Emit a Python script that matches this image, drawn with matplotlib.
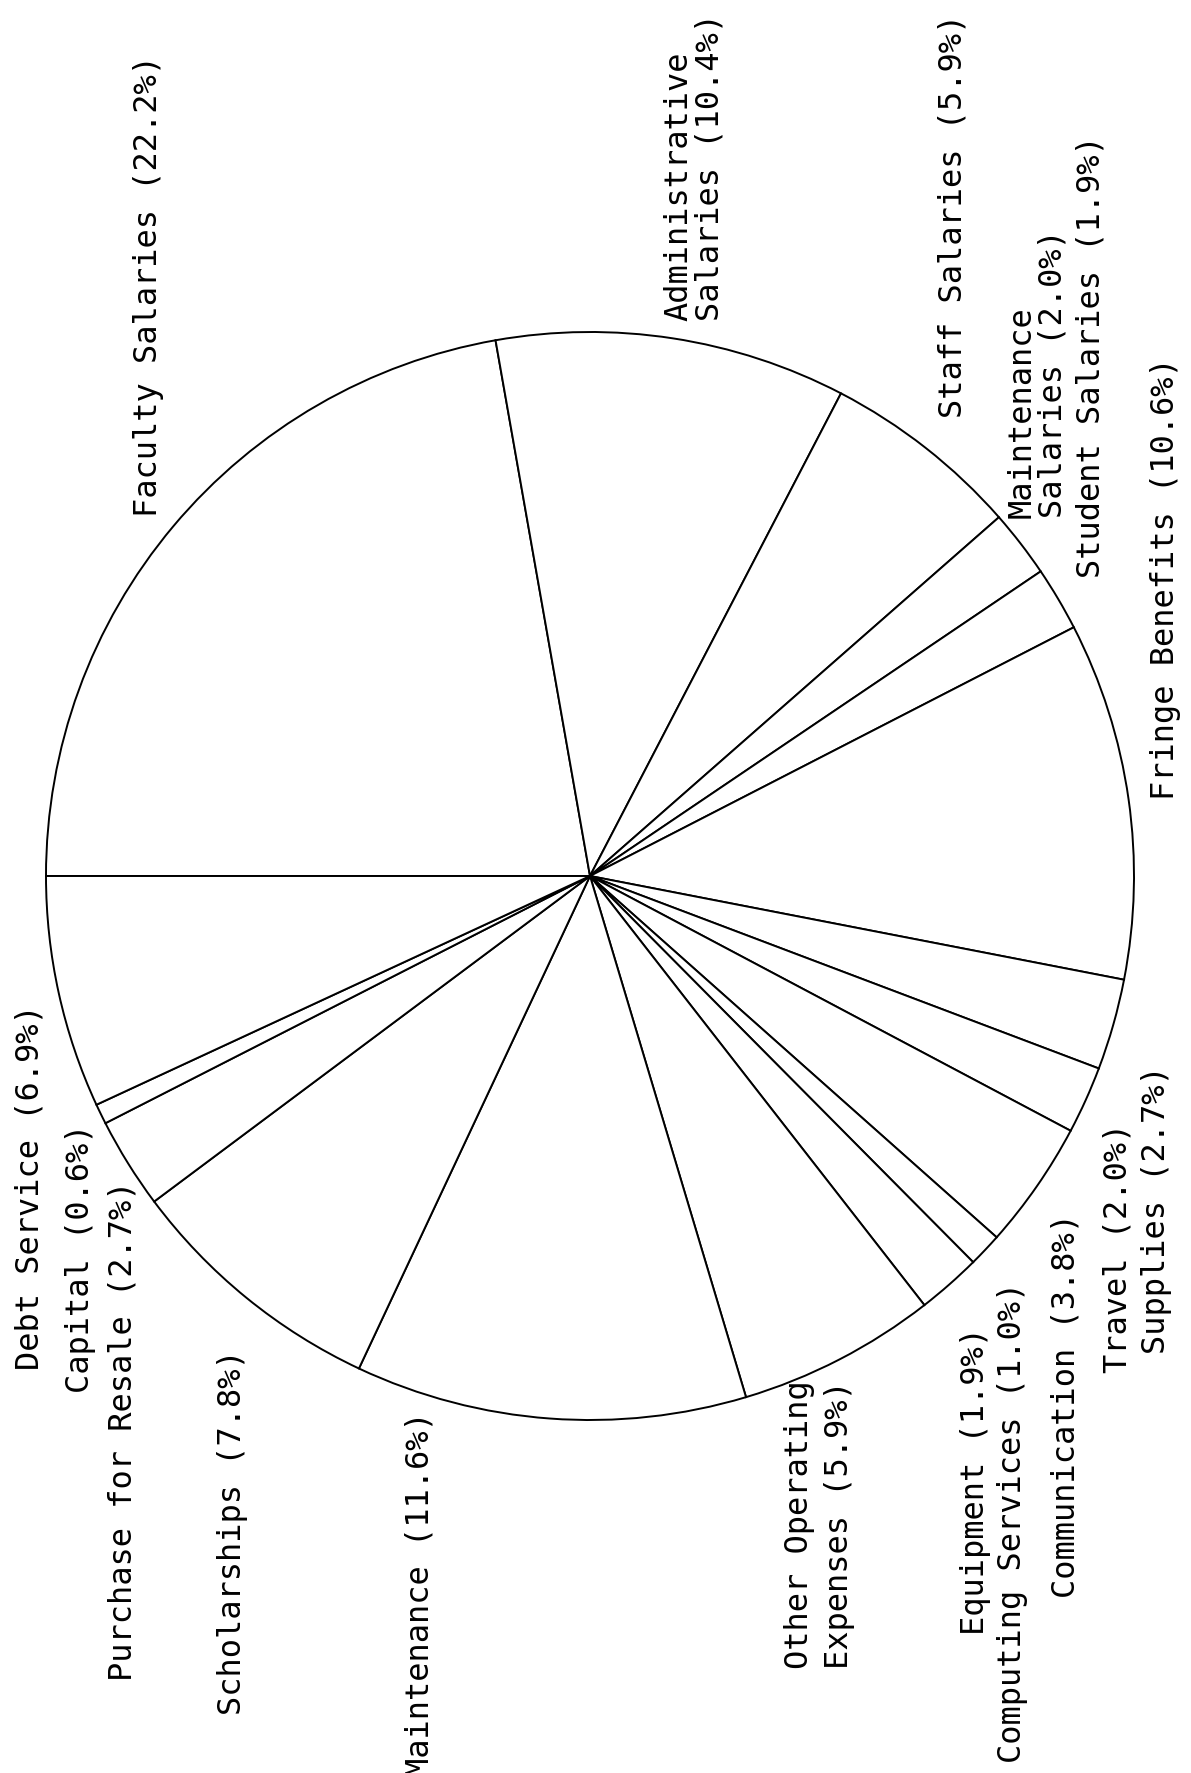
import numpy as np
import matplotlib
matplotlib.use("Agg")
from matplotlib import pyplot as plt

# budget categories, clockwise from the left horizontal line
labels = ["Faculty Salaries", "Administrative\nSalaries", "Staff Salaries",
          "Maintenance\nSalaries", "Student Salaries", "Fringe Benefits",
          "Supplies", "Travel", "Communication", "Computing Services",
          "Equipment", "Other Operating\nExpenses", "Maintenance",
          "Scholarships", "Purchase for Resale", "Capital", "Debt Service"]
percents = [22.2, 10.4, 5.9, 2.0, 1.9, 10.6, 2.7, 2.0, 3.8, 1.0,
            1.9, 5.9, 11.6, 7.8, 2.7, 0.6, 6.9]

# label nudges (pixels, x right / y down) from the wedge mid point on the rim
nudges = [(-25, -10), (22, -18), (27, -31), (17, -27), (33, -22), (37, 0),
          (43, 40), (32, 22), (29, 26), (27, 31), (26, 42), (-20, 20),
          (-130, -8), (-14, 51), (-5, 16), (-20, 8), (-29, 10)]

W, H = 1191, 1774
cx, cy, R = 590, H - 877, 544

fig = plt.figure(figsize=(W / 100, H / 100), dpi=100)
ax = fig.add_axes([0, 0, 1, 1])
wedges, _ = ax.pie(percents, startangle=180, counterclock=False,
                   center=(cx, cy), radius=R,
                   wedgeprops=dict(facecolor='white', edgecolor='black', linewidth=1.4))

for w, lab, pct, (dx, dy) in zip(wedges, labels, percents, nudges):
    mid = np.deg2rad((w.theta1 + w.theta2) / 2)
    x = cx + R * np.cos(mid) + dx
    y = cy + R * np.sin(mid) - dy
    txt = f"{lab} ({pct:.1f}%)"
    if np.sin(mid) >= 0:
        ax.text(x, y, txt, rotation=90, ha='center', va='bottom',
                multialignment='left', family='DejaVu Sans Mono',
                fontsize=23, linespacing=1.0)
    else:
        ax.text(x, y, txt, rotation=90, ha='center', va='top',
                multialignment='right', family='DejaVu Sans Mono',
                fontsize=23, linespacing=1.35)

ax.set_xlim(0, W)
ax.set_ylim(0, H)
ax.set_aspect('equal')
ax.axis('off')
fig.savefig("out.png", dpi=100, facecolor='white')
